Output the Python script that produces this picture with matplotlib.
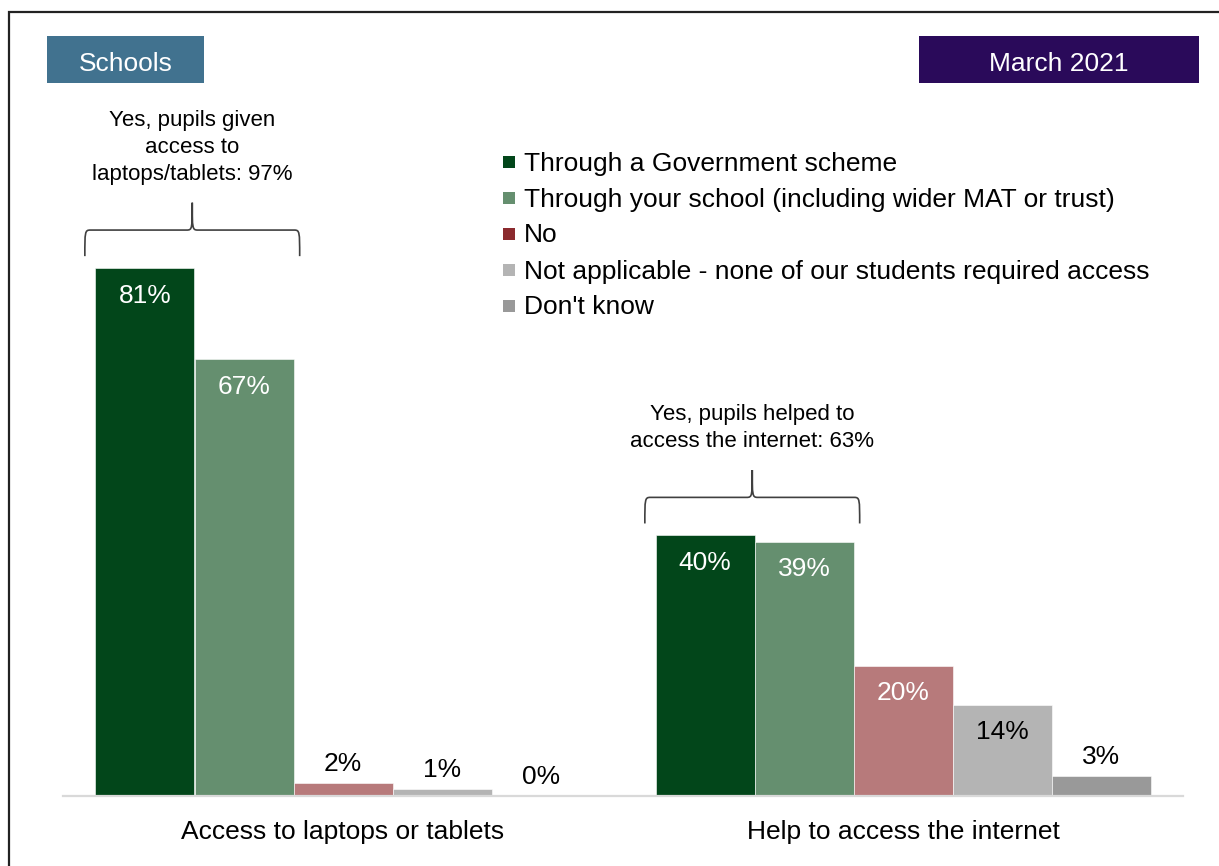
import matplotlib
matplotlib.use("Agg")
import matplotlib.pyplot as plt
from matplotlib.patches import Rectangle
from matplotlib.path import Path
from matplotlib.patches import PathPatch
import numpy as np

plt.rcParams['font.family'] = ['Liberation Sans', 'DejaVu Sans']

# --- data ---
categories = ["Access to laptops or tablets", "Help to access the internet"]
series_labels = [
    "Through a Government scheme",
    "Through your school (including wider MAT or trust)",
    "No",
    "Not applicable - none of our students required access",
    "Don't know",
]
gov_scheme = [81, 40]
own_school = [67, 39]
answer_no = [2, 20]
not_applicable = [1, 14]
dont_know = [0, 3]
yes_totals = [97, 63]
yes_texts = ["Yes, pupils given\naccess to\nlaptops/tablets: {}%",
             "Yes, pupils helped to\naccess the internet: {}%"]

series_values = [gov_scheme, own_school, answer_no, not_applicable, dont_know]
bar_colors = ['#02461a', '#658f6f', '#b77a7b', '#b4b4b4', '#999999']
legend_colors = ['#02461a', '#658f6f', '#8b2a2e', '#b4b4b4', '#999999']
label_colors = ['white', 'white', 'white', 'black', 'black']

W, H = 1219, 866
fig = plt.figure(figsize=(W / 100, H / 100), dpi=100)


def fx(x):
    return x / W


def fy(y):
    return 1 - y / H


# outer frame
fig.patches.append(Rectangle((fx(9), fy(880)), fx(1230) - fx(9), fy(12) - fy(880),
                             transform=fig.transFigure, fill=False,
                             edgecolor='#222222', linewidth=1.6))

# header boxes
for (x0, x1, txt, col) in [(47, 204, "Schools", '#41728f'),
                           (919, 1199, "March 2021", '#2a0a5a')]:
    fig.patches.append(Rectangle((fx(x0), fy(82.5)), fx(x1) - fx(x0), fy(36) - fy(82.5),
                                 transform=fig.transFigure, color=col, linewidth=0))
    fig.text(fx((x0 + x1) / 2), fy(64), txt, color='white', fontsize=19,
             ha='center', va='center')

ax = fig.add_axes([fx(63), fy(796), fx(1183) - fx(63), fy(144) - fy(796)])
ax.set_xlim(-0.5, 1.5)
ax.set_ylim(0, 100)

x = np.arange(len(categories))
w = 99 / 560
n = len(series_values)
for i, (vals, col) in enumerate(zip(series_values, bar_colors)):
    pos = x + (i - (n - 1) / 2) * w
    bars = ax.bar(pos, vals, w, color=col, edgecolor='white', linewidth=0.4)
    for b, v in zip(bars, vals):
        cx = b.get_x() + b.get_width() / 2
        if v >= 10:
            ax.annotate(f"{v}%", (cx, v), xytext=(0, -20), textcoords='offset points',
                        ha='center', va='center', fontsize=19, color=label_colors[i])
        else:
            ax.annotate(f"{v}%", (cx, v), xytext=(0, 14), textcoords='offset points',
                        ha='center', va='center', fontsize=19, color='black')


def draw_brace(ax, xm, half, y_end, y_h, y_tip):
    r = half * 0.05
    x0, x1 = xm - half, xm + half
    verts = [
        (x0, y_end),
        (x0, y_h - 0.3), (x0, y_h), (x0 + r, y_h),
        (xm - r, y_h),
        (xm, y_h), (xm, y_h + 0.3), (xm, y_tip),
        (xm, y_h + 0.3), (xm, y_h), (xm + r, y_h),
        (x1 - r, y_h),
        (x1, y_h), (x1, y_h - 0.3), (x1, y_end),
    ]
    codes = [Path.MOVETO,
             Path.CURVE4, Path.CURVE4, Path.CURVE4,
             Path.LINETO,
             Path.CURVE4, Path.CURVE4, Path.CURVE4,
             Path.CURVE4, Path.CURVE4, Path.CURVE4,
             Path.LINETO,
             Path.CURVE4, Path.CURVE4, Path.CURVE4]
    ax.add_patch(PathPatch(Path(verts, codes), fill=False, edgecolor='#404040',
                           linewidth=1.2, clip_on=False))


# braces over the two "yes" bars of each group
for k in range(len(categories)):
    xm = x[k] - 1.5 * w - 0.004
    top = max(gov_scheme[k], own_school[k])
    draw_brace(ax, xm, 1.085 * w, top + 1.8, top + 5.8, top + 10)
    ax.annotate(yes_texts[k].format(yes_totals[k]), (xm, top + 10), xytext=(0, 13),
                textcoords='offset points', ha='center', va='bottom',
                fontsize=16, linespacing=1.36)

ax.set_xticks(x)
ax.set_xticklabels(categories, fontsize=19)
ax.tick_params(axis='x', length=0, pad=17)
ax.set_yticks([])
for s in ['top', 'right', 'left']:
    ax.spines[s].set_visible(False)
ax.spines['bottom'].set_color('#d9d9d9')
ax.spines['bottom'].set_linewidth(1.6)

# legend
for i, (lab, col) in enumerate(zip(series_labels, legend_colors)):
    yc = 162 + 36 * i
    fig.patches.append(Rectangle((fx(503), fy(yc + 6)), fx(12), fy(0) - fy(12),
                                 transform=fig.transFigure, color=col, linewidth=0))
    fig.text(fx(524), fy(yc + 1.5), lab, fontsize=19, ha='left', va='center')

fig.savefig('out.png', dpi=100)
